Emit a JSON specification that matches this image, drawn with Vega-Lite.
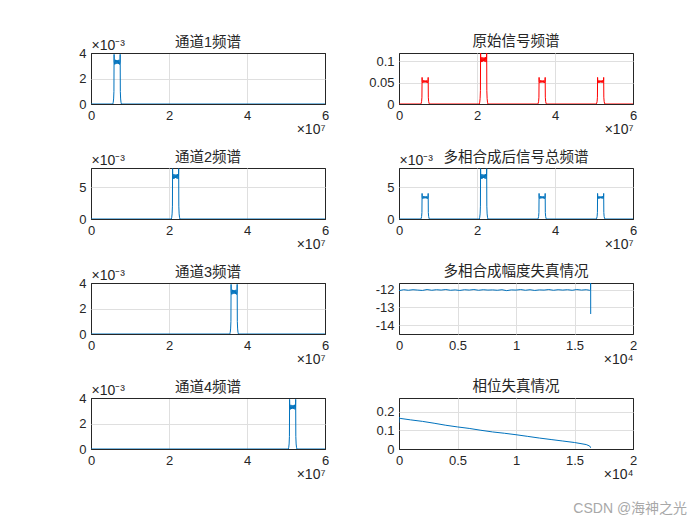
{
  "$schema": "https://vega.github.io/schema/vega-lite/v6.json",
  "background": "white",
  "padding": {"left": 78, "top": 33, "right": 5, "bottom": 5},
  "config": {
    "font": "Liberation Sans, Noto Sans CJK SC",
    "view": {"stroke": "#262626", "strokeWidth": 1},
    "axis": {"grid": true, "gridColor": "#dfdfdf", "domain": false, "ticks": false, "labelFontSize": 13, "labelColor": "#262626", "labelPadding": 5, "titleFontSize": 14, "titleFontWeight": "normal", "titleColor": "#262626"},
    "axisX": {"labelFlush": false, "labelPadding": 5, "titleX": 234, "titleY": 29, "titleAnchor": "end", "titleAlign": "right", "titleBaseline": "alphabetic",
      "gridColor": {"condition": {"test": "datum.value == 0 || datum.value == 60000000 || datum.value == 20000", "value": "#262626"}, "value": "#dfdfdf"}},
    "axisY": {"titleAngle": 0, "titleX": 0, "titleY": -4, "titleAnchor": "start", "titleAlign": "left", "titleBaseline": "alphabetic",
      "gridColor": {"condition": {"test": "datum.value == 0 || datum.value == 0.004", "value": "#262626"}, "value": "#dfdfdf"}},
    "title": {"fontSize": 14.5, "fontWeight": "normal", "color": "#262626", "offset": 0},
    "line": {"strokeWidth": 1, "invalid": "filter"}
  },
  "title": {"text": "CSDN @海神之光", "orient": "bottom", "anchor": "end", "fontSize": 14, "color": "#a8a8a8", "offset": 20, "dx": 50},
  "datasets": {
    "spec": [
      {"f": 0, "ch1": 0, "ch2": 0, "ch3": 0, "ch4": 0, "orig": 0, "comb": 0},
      {"f": 5600000, "ch1": 0, "orig": 0, "comb": 0},
      {"f": 5700000, "ch1": 0.000132, "orig": 0.00212, "comb": 0.000136},
      {"f": 5800000, "ch1": 0.000396, "orig": 0.00636, "comb": 0.000408},
      {"f": 5880000, "ch1": 0.00099, "orig": 0.0159, "comb": 0.00102},
      {"f": 5920000, "ch1": 0.003894, "orig": 0.06254, "comb": 0.004012},
      {"f": 5960000, "ch1": 0.0033, "orig": 0.053, "comb": 0.0034},
      {"f": 6100000, "ch1": 0.003102, "orig": 0.04982, "comb": 0.003196},
      {"f": 6250000, "ch1": 0.003465, "orig": 0.05565, "comb": 0.00357},
      {"f": 6400000, "ch1": 0.003135, "orig": 0.05035, "comb": 0.00323},
      {"f": 6550000, "ch1": 0.003432, "orig": 0.05512, "comb": 0.003536},
      {"f": 6700000, "ch1": 0.003168, "orig": 0.05088, "comb": 0.003264},
      {"f": 6850000, "ch1": 0.003432, "orig": 0.05512, "comb": 0.003536},
      {"f": 7000000, "ch1": 0.003135, "orig": 0.05035, "comb": 0.00323},
      {"f": 7150000, "ch1": 0.003465, "orig": 0.05565, "comb": 0.00357},
      {"f": 7300000, "ch1": 0.003102, "orig": 0.04982, "comb": 0.003196},
      {"f": 7440000, "ch1": 0.0033, "orig": 0.053, "comb": 0.0034},
      {"f": 7480000, "ch1": 0.003894, "orig": 0.06254, "comb": 0.004012},
      {"f": 7520000, "ch1": 0.00099, "orig": 0.0159, "comb": 0.00102},
      {"f": 7600000, "ch1": 0.000396, "orig": 0.00636, "comb": 0.000408},
      {"f": 7700000, "ch1": 0.000132, "orig": 0.00212, "comb": 0.000136},
      {"f": 7800000, "ch1": 0, "orig": 0, "comb": 0},
      {"f": 20600000, "ch2": 0, "orig": 0, "comb": 0},
      {"f": 20700000, "ch2": 0.000268, "orig": 0.0042, "comb": 0.000268},
      {"f": 20800000, "ch2": 0.000804, "orig": 0.0126, "comb": 0.000804},
      {"f": 20880000, "ch2": 0.00201, "orig": 0.0315, "comb": 0.00201},
      {"f": 20920000, "ch2": 0.007906, "orig": 0.1239, "comb": 0.007906},
      {"f": 20960000, "ch2": 0.0067, "orig": 0.105, "comb": 0.0067},
      {"f": 21100000, "ch2": 0.006298, "orig": 0.0987, "comb": 0.006298},
      {"f": 21250000, "ch2": 0.007035, "orig": 0.11025, "comb": 0.007035},
      {"f": 21400000, "ch2": 0.006365, "orig": 0.09975, "comb": 0.006365},
      {"f": 21550000, "ch2": 0.006968, "orig": 0.1092, "comb": 0.006968},
      {"f": 21700000, "ch2": 0.006432, "orig": 0.1008, "comb": 0.006432},
      {"f": 21850000, "ch2": 0.006968, "orig": 0.1092, "comb": 0.006968},
      {"f": 22000000, "ch2": 0.006365, "orig": 0.09975, "comb": 0.006365},
      {"f": 22150000, "ch2": 0.007035, "orig": 0.11025, "comb": 0.007035},
      {"f": 22300000, "ch2": 0.006298, "orig": 0.0987, "comb": 0.006298},
      {"f": 22440000, "ch2": 0.0067, "orig": 0.105, "comb": 0.0067},
      {"f": 22480000, "ch2": 0.007906, "orig": 0.1239, "comb": 0.007906},
      {"f": 22520000, "ch2": 0.00201, "orig": 0.0315, "comb": 0.00201},
      {"f": 22600000, "ch2": 0.000804, "orig": 0.0126, "comb": 0.000804},
      {"f": 22700000, "ch2": 0.000268, "orig": 0.0042, "comb": 0.000268},
      {"f": 22800000, "ch2": 0, "orig": 0, "comb": 0},
      {"f": 35600000, "ch3": 0, "orig": 0, "comb": 0},
      {"f": 35700000, "ch3": 0.000132, "orig": 0.00212, "comb": 0.000136},
      {"f": 35800000, "ch3": 0.000396, "orig": 0.00636, "comb": 0.000408},
      {"f": 35880000, "ch3": 0.00099, "orig": 0.0159, "comb": 0.00102},
      {"f": 35920000, "ch3": 0.003894, "orig": 0.06254, "comb": 0.004012},
      {"f": 35960000, "ch3": 0.0033, "orig": 0.053, "comb": 0.0034},
      {"f": 36100000, "ch3": 0.003102, "orig": 0.04982, "comb": 0.003196},
      {"f": 36250000, "ch3": 0.003465, "orig": 0.05565, "comb": 0.00357},
      {"f": 36400000, "ch3": 0.003135, "orig": 0.05035, "comb": 0.00323},
      {"f": 36550000, "ch3": 0.003432, "orig": 0.05512, "comb": 0.003536},
      {"f": 36700000, "ch3": 0.003168, "orig": 0.05088, "comb": 0.003264},
      {"f": 36850000, "ch3": 0.003432, "orig": 0.05512, "comb": 0.003536},
      {"f": 37000000, "ch3": 0.003135, "orig": 0.05035, "comb": 0.00323},
      {"f": 37150000, "ch3": 0.003465, "orig": 0.05565, "comb": 0.00357},
      {"f": 37300000, "ch3": 0.003102, "orig": 0.04982, "comb": 0.003196},
      {"f": 37440000, "ch3": 0.0033, "orig": 0.053, "comb": 0.0034},
      {"f": 37480000, "ch3": 0.003894, "orig": 0.06254, "comb": 0.004012},
      {"f": 37520000, "ch3": 0.00099, "orig": 0.0159, "comb": 0.00102},
      {"f": 37600000, "ch3": 0.000396, "orig": 0.00636, "comb": 0.000408},
      {"f": 37700000, "ch3": 0.000132, "orig": 0.00212, "comb": 0.000136},
      {"f": 37800000, "ch3": 0, "orig": 0, "comb": 0},
      {"f": 50600000, "ch4": 0, "orig": 0, "comb": 0},
      {"f": 50700000, "ch4": 0.000132, "orig": 0.00212, "comb": 0.000136},
      {"f": 50800000, "ch4": 0.000396, "orig": 0.00636, "comb": 0.000408},
      {"f": 50880000, "ch4": 0.00099, "orig": 0.0159, "comb": 0.00102},
      {"f": 50920000, "ch4": 0.003894, "orig": 0.06254, "comb": 0.004012},
      {"f": 50960000, "ch4": 0.0033, "orig": 0.053, "comb": 0.0034},
      {"f": 51100000, "ch4": 0.003102, "orig": 0.04982, "comb": 0.003196},
      {"f": 51250000, "ch4": 0.003465, "orig": 0.05565, "comb": 0.00357},
      {"f": 51400000, "ch4": 0.003135, "orig": 0.05035, "comb": 0.00323},
      {"f": 51550000, "ch4": 0.003432, "orig": 0.05512, "comb": 0.003536},
      {"f": 51700000, "ch4": 0.003168, "orig": 0.05088, "comb": 0.003264},
      {"f": 51850000, "ch4": 0.003432, "orig": 0.05512, "comb": 0.003536},
      {"f": 52000000, "ch4": 0.003135, "orig": 0.05035, "comb": 0.00323},
      {"f": 52150000, "ch4": 0.003465, "orig": 0.05565, "comb": 0.00357},
      {"f": 52300000, "ch4": 0.003102, "orig": 0.04982, "comb": 0.003196},
      {"f": 52440000, "ch4": 0.0033, "orig": 0.053, "comb": 0.0034},
      {"f": 52480000, "ch4": 0.003894, "orig": 0.06254, "comb": 0.004012},
      {"f": 52520000, "ch4": 0.00099, "orig": 0.0159, "comb": 0.00102},
      {"f": 52600000, "ch4": 0.000396, "orig": 0.00636, "comb": 0.000408},
      {"f": 52700000, "ch4": 0.000132, "orig": 0.00212, "comb": 0.000136},
      {"f": 52800000, "ch4": 0, "orig": 0, "comb": 0},
      {"f": 60000000, "ch1": 0, "ch2": 0, "ch3": 0, "ch4": 0, "orig": 0, "comb": 0}
    ],
    "amp": [
      {"n": 0, "db": -12.05}, {"n": 400, "db": -12.0}, {"n": 800, "db": -12.03}, {"n": 1200, "db": -12.0},
      {"n": 1600, "db": -12.02}, {"n": 2000, "db": -12.04}, {"n": 2400, "db": -11.99}, {"n": 2800, "db": -12.03},
      {"n": 3200, "db": -12.0}, {"n": 3600, "db": -12.02}, {"n": 4000, "db": -11.99}, {"n": 4400, "db": -12.03},
      {"n": 4800, "db": -12.01}, {"n": 5200, "db": -12.04}, {"n": 5600, "db": -12.0}, {"n": 6000, "db": -12.02},
      {"n": 6400, "db": -11.99}, {"n": 6800, "db": -12.03}, {"n": 7200, "db": -12.0}, {"n": 7600, "db": -12.02},
      {"n": 8000, "db": -12.01}, {"n": 8400, "db": -12.03}, {"n": 8800, "db": -12.0}, {"n": 9200, "db": -12.05},
      {"n": 9600, "db": -12.01}, {"n": 10000, "db": -12.02}, {"n": 10400, "db": -11.99}, {"n": 10800, "db": -12.03},
      {"n": 11200, "db": -12.0}, {"n": 11600, "db": -12.04}, {"n": 12000, "db": -12.01}, {"n": 12400, "db": -12.02},
      {"n": 12800, "db": -11.99}, {"n": 13200, "db": -12.03}, {"n": 13600, "db": -12.0}, {"n": 14000, "db": -12.02},
      {"n": 14400, "db": -12.0}, {"n": 14800, "db": -12.03}, {"n": 15200, "db": -11.99}, {"n": 15600, "db": -12.02},
      {"n": 16000, "db": -12.0}, {"n": 16300, "db": -12.03}, {"n": 16370, "db": -12.0}, {"n": 16380, "db": -11.0},
      {"n": 16384, "db": -13.37}
    ],
    "phase": [
      {"n": 0, "ph": 0.142}, {"n": 5, "ph": 0.172}, {"n": 100, "ph": 0.165}, {"n": 1000, "ph": 0.157},
      {"n": 2000, "ph": 0.149}, {"n": 3000, "ph": 0.139}, {"n": 4000, "ph": 0.128}, {"n": 5000, "ph": 0.119},
      {"n": 6000, "ph": 0.111}, {"n": 7000, "ph": 0.101}, {"n": 8000, "ph": 0.092}, {"n": 9000, "ph": 0.085},
      {"n": 10000, "ph": 0.077}, {"n": 11000, "ph": 0.068}, {"n": 12000, "ph": 0.059}, {"n": 13000, "ph": 0.051},
      {"n": 14000, "ph": 0.043}, {"n": 15000, "ph": 0.035}, {"n": 16000, "ph": 0.024}, {"n": 16300, "ph": 0.016},
      {"n": 16370, "ph": 0.008}, {"n": 16384, "ph": 0.011}
    ]
  },
  "columns": 2,
  "spacing": {"row": 64, "column": 74},
  "bounds": "flush",
  "concat": [
    {
      "width": 234, "height": 51, "title": {"text": "通道1频谱", "offset": -12},
      "data": {"name": "spec"},
      "mark": {"type": "line", "color": "#0072bd", "clip": true},
      "encoding": {
        "x": {"field": "f", "type": "quantitative", "scale": {"domain": [0, 60000000], "nice": false}, "axis": {"values": [0, 20000000, 40000000, 60000000], "labelExpr": "datum.value/1e7", "title": "×10⁷"}},
        "y": {"field": "ch1", "type": "quantitative", "scale": {"domain": [0, 0.004], "nice": false}, "axis": {"values": [0, 0.002, 0.004], "labelExpr": "round(datum.value*1000)", "title": "×10⁻³"}}
      }
    },
    {
      "width": 234, "height": 51, "title": {"text": "原始信号频谱", "offset": 4},
      "data": {"name": "spec"},
      "mark": {"type": "line", "color": "#ff0000", "clip": true},
      "encoding": {
        "x": {"field": "f", "type": "quantitative", "scale": {"domain": [0, 60000000], "nice": false}, "axis": {"values": [0, 20000000, 40000000, 60000000], "labelExpr": "datum.value/1e7", "title": "×10⁷"}},
        "y": {"field": "orig", "type": "quantitative", "scale": {"domain": [0, 0.12], "nice": false}, "axis": {"values": [0, 0.05, 0.1], "labelExpr": "datum.value", "title": null}}
      }
    },
    {
      "width": 234, "height": 51, "title": {"text": "通道2频谱", "offset": -12},
      "data": {"name": "spec"},
      "mark": {"type": "line", "color": "#0072bd", "clip": true},
      "encoding": {
        "x": {"field": "f", "type": "quantitative", "scale": {"domain": [0, 60000000], "nice": false}, "axis": {"values": [0, 20000000, 40000000, 60000000], "labelExpr": "datum.value/1e7", "title": "×10⁷"}},
        "y": {"field": "ch2", "type": "quantitative", "scale": {"domain": [0, 0.008], "nice": false}, "axis": {"values": [0, 0.005], "labelExpr": "round(datum.value*1000)", "title": "×10⁻³"}}
      }
    },
    {
      "width": 234, "height": 51, "title": {"text": "多相合成后信号总频谱", "offset": -12},
      "data": {"name": "spec"},
      "mark": {"type": "line", "color": "#0072bd", "clip": true},
      "encoding": {
        "x": {"field": "f", "type": "quantitative", "scale": {"domain": [0, 60000000], "nice": false}, "axis": {"values": [0, 20000000, 40000000, 60000000], "labelExpr": "datum.value/1e7", "title": "×10⁷"}},
        "y": {"field": "comb", "type": "quantitative", "scale": {"domain": [0, 0.008], "nice": false}, "axis": {"values": [0, 0.005], "labelExpr": "round(datum.value*1000)", "title": "×10⁻³"}}
      }
    },
    {
      "width": 234, "height": 51, "title": {"text": "通道3频谱", "offset": -12},
      "data": {"name": "spec"},
      "mark": {"type": "line", "color": "#0072bd", "clip": true},
      "encoding": {
        "x": {"field": "f", "type": "quantitative", "scale": {"domain": [0, 60000000], "nice": false}, "axis": {"values": [0, 20000000, 40000000, 60000000], "labelExpr": "datum.value/1e7", "title": "×10⁷"}},
        "y": {"field": "ch3", "type": "quantitative", "scale": {"domain": [0, 0.004], "nice": false}, "axis": {"values": [0, 0.002, 0.004], "labelExpr": "round(datum.value*1000)", "title": "×10⁻³"}}
      }
    },
    {
      "width": 234, "height": 51, "title": {"text": "多相合成幅度失真情况", "offset": 4},
      "data": {"name": "amp"},
      "mark": {"type": "line", "color": "#0072bd", "clip": true},
      "encoding": {
        "x": {"field": "n", "type": "quantitative", "scale": {"domain": [0, 20000], "nice": false}, "axis": {"values": [0, 5000, 10000, 15000, 20000], "labelExpr": "datum.value/1e4", "title": "×10⁴"}},
        "y": {"field": "db", "type": "quantitative", "scale": {"domain": [-14.5, -11.62], "nice": false, "zero": false}, "axis": {"values": [-14, -13, -12], "labelExpr": "datum.value", "title": null}}
      }
    },
    {
      "width": 234, "height": 51, "title": {"text": "通道4频谱", "offset": -12},
      "data": {"name": "spec"},
      "mark": {"type": "line", "color": "#0072bd", "clip": true},
      "encoding": {
        "x": {"field": "f", "type": "quantitative", "scale": {"domain": [0, 60000000], "nice": false}, "axis": {"values": [0, 20000000, 40000000, 60000000], "labelExpr": "datum.value/1e7", "title": "×10⁷"}},
        "y": {"field": "ch4", "type": "quantitative", "scale": {"domain": [0, 0.004], "nice": false}, "axis": {"values": [0, 0.002, 0.004], "labelExpr": "round(datum.value*1000)", "title": "×10⁻³"}}
      }
    },
    {
      "width": 234, "height": 51, "title": {"text": "相位失真情况", "offset": 4},
      "data": {"name": "phase"},
      "mark": {"type": "line", "color": "#0072bd", "clip": true},
      "encoding": {
        "x": {"field": "n", "type": "quantitative", "scale": {"domain": [0, 20000], "nice": false}, "axis": {"values": [0, 5000, 10000, 15000, 20000], "labelExpr": "datum.value/1e4", "title": "×10⁴"}},
        "y": {"field": "ph", "type": "quantitative", "scale": {"domain": [0, 0.275], "nice": false}, "axis": {"values": [0, 0.1, 0.2], "labelExpr": "datum.value", "title": null}}
      }
    }
  ]
}
